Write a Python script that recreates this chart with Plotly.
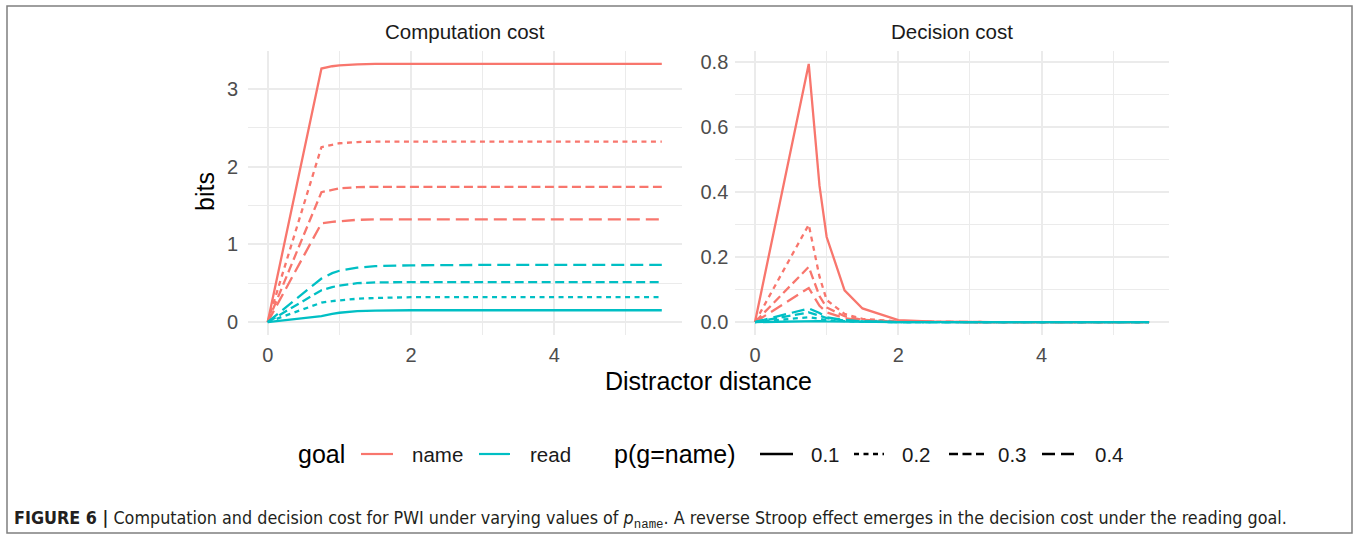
import plotly.graph_objects as go

W, H = 1357, 538

# ---------------- data ----------------
distance = [0, 0.75, 0.9, 1.0, 1.25, 1.5, 2.0, 2.5, 3.0, 3.5, 4.0, 4.5, 5.0, 5.5]
p_values = ["0.1", "0.2", "0.3", "0.4"]
goals = ["name", "read"]

# Computation cost (bits)
comp_name_01 = [0, 3.26, 3.29, 3.30, 3.315, 3.32, 3.32, 3.32, 3.32, 3.32, 3.32, 3.32, 3.32, 3.32]
comp_name_02 = [0, 2.25, 2.28, 2.30, 2.315, 2.32, 2.32, 2.32, 2.32, 2.32, 2.32, 2.32, 2.32, 2.32]
comp_name_03 = [0, 1.67, 1.70, 1.72, 1.735, 1.74, 1.74, 1.74, 1.74, 1.74, 1.74, 1.74, 1.74, 1.74]
comp_name_04 = [0, 1.27, 1.29, 1.30, 1.315, 1.32, 1.32, 1.32, 1.32, 1.32, 1.32, 1.32, 1.32, 1.32]
comp_read_01 = [0, 0.077, 0.105, 0.12, 0.14, 0.148, 0.152, 0.152, 0.152, 0.152, 0.152, 0.152, 0.152, 0.152]
comp_read_02 = [0, 0.25, 0.27, 0.28, 0.30, 0.31, 0.32, 0.32, 0.32, 0.32, 0.32, 0.32, 0.32, 0.32]
comp_read_03 = [0, 0.41, 0.45, 0.47, 0.50, 0.51, 0.515, 0.515, 0.515, 0.515, 0.515, 0.515, 0.515, 0.515]
comp_read_04 = [0, 0.56, 0.63, 0.66, 0.70, 0.72, 0.73, 0.735, 0.735, 0.735, 0.735, 0.735, 0.735, 0.735]

# Decision cost (bits)
dec_name_01 = [0, 0.795, 0.42, 0.262, 0.098, 0.042, 0.006, 0.001, 0, 0, 0, 0, 0, 0]
dec_name_02 = [0, 0.30, 0.14, 0.068, 0.025, 0.010, 0.002, 0, 0, 0, 0, 0, 0, 0]
dec_name_03 = [0, 0.17, 0.08, 0.045, 0.018, 0.007, 0.001, 0, 0, 0, 0, 0, 0, 0]
dec_name_04 = [0, 0.105, 0.05, 0.030, 0.012, 0.005, 0.001, 0, 0, 0, 0, 0, 0, 0]
dec_read_01 = [0, 0.004, 0.003, 0.002, 0.001, 0.0005, 0, 0, 0, 0, 0, 0, 0, 0]
dec_read_02 = [0, 0.015, 0.010, 0.006, 0.003, 0.001, 0, 0, 0, 0, 0, 0, 0, 0]
dec_read_03 = [0, 0.030, 0.020, 0.012, 0.005, 0.002, 0, 0, 0, 0, 0, 0, 0, 0]
dec_read_04 = [0, 0.042, 0.028, 0.015, 0.006, 0.002, 0, 0, 0, 0, 0, 0, 0, 0]

comp = {
    ("name", "0.1"): comp_name_01, ("name", "0.2"): comp_name_02,
    ("name", "0.3"): comp_name_03, ("name", "0.4"): comp_name_04,
    ("read", "0.1"): comp_read_01, ("read", "0.2"): comp_read_02,
    ("read", "0.3"): comp_read_03, ("read", "0.4"): comp_read_04,
}
dec = {
    ("name", "0.1"): dec_name_01, ("name", "0.2"): dec_name_02,
    ("name", "0.3"): dec_name_03, ("name", "0.4"): dec_name_04,
    ("read", "0.1"): dec_read_01, ("read", "0.2"): dec_read_02,
    ("read", "0.3"): dec_read_03, ("read", "0.4"): dec_read_04,
}

# ---------------- styles ----------------
colors = {"name": "#F8766D", "read": "#00BFC4"}
dashes = {"0.1": "solid", "0.2": "5px,4.5px", "0.3": "9px,4.5px", "0.4": "13px,6px"}
FONT = "Liberation Sans, Arial, Helvetica, sans-serif"
LW = 2.3
GRID = "#EBEBEB"

fig = go.Figure()
for g in goals:
    for p in p_values:
        fig.add_trace(go.Scatter(x=distance, y=comp[(g, p)], mode="lines",
                                 line=dict(color=colors[g], width=LW, dash=dashes[p]),
                                 xaxis="x", yaxis="y", showlegend=False,
                                 name=f"{g} {p}"))
        fig.add_trace(go.Scatter(x=distance, y=dec[(g, p)], mode="lines",
                                 line=dict(color=colors[g], width=LW, dash=dashes[p]),
                                 xaxis="x2", yaxis="y2", showlegend=False,
                                 name=f"{g} {p}"))


def expand(vals):
    lo, hi = min(vals), max(vals)
    s = hi - lo
    return [lo - 0.05 * s, hi + 0.05 * s]


xr = expand(distance)
yr1 = expand([v for s in comp.values() for v in s])
yr2 = expand([v for s in dec.values() for v in s])


def px(x):
    return x / W


def py(y):
    return 1 - y / H


dom_y = [py(335), py(51)]
dom_x1 = [px(248), px(681.5)]
dom_x2 = [px(735.3), px(1168.8)]

axis_common = dict(showline=False, zeroline=False, ticks="", showgrid=True,
                   gridcolor=GRID, gridwidth=1.6,
                   tickfont=dict(family=FONT, size=20, color="#4D4D4D"))

fig.update_layout(
    width=W, height=H, autosize=False,
    margin=dict(l=0, r=0, t=0, b=0),
    paper_bgcolor="white", plot_bgcolor="white",
    showlegend=False,
    xaxis=dict(domain=dom_x1, range=xr, anchor="y", tickvals=[0, 2, 4],
               ticktext=["0", "2", "4"], ticklabelstandoff=6,
               minor=dict(dtick=1, tick0=0, showgrid=True, gridcolor=GRID, gridwidth=0.9),
               **axis_common),
    yaxis=dict(domain=dom_y, range=yr1, anchor="x", tickvals=[0, 1, 2, 3],
               ticktext=["0", "1", "2", "3"], ticklabelstandoff=9,
               minor=dict(dtick=0.5, tick0=0, showgrid=True, gridcolor=GRID, gridwidth=0.9),
               **axis_common),
    xaxis2=dict(domain=dom_x2, range=xr, anchor="y2", tickvals=[0, 2, 4],
                ticktext=["0", "2", "4"], ticklabelstandoff=6,
                minor=dict(dtick=1, tick0=0, showgrid=True, gridcolor=GRID, gridwidth=0.9),
                **axis_common),
    yaxis2=dict(domain=dom_y, range=yr2, anchor="x2",
                tickvals=[0, 0.2, 0.4, 0.6, 0.8],
                ticktext=["0.0", "0.2", "0.4", "0.6", "0.8"], ticklabelstandoff=6,
                minor=dict(dtick=0.1, tick0=0, showgrid=True, gridcolor=GRID, gridwidth=0.9),
                **axis_common),
)

ann = []
# panel strip titles
ann.append(dict(text="Computation cost", x=px((248 + 681.5) / 2), y=py(31), xref="paper", yref="paper",
                showarrow=False, xanchor="center", yanchor="middle",
                font=dict(family=FONT, size=20.5, color="#1A1A1A")))
ann.append(dict(text="Decision cost", x=px((735.3 + 1168.8) / 2), y=py(31), xref="paper", yref="paper",
                showarrow=False, xanchor="center", yanchor="middle",
                font=dict(family=FONT, size=20.5, color="#1A1A1A")))
# axis titles
ann.append(dict(text="bits", x=px(205), y=py(192), xref="paper", yref="paper", textangle=-90,
                showarrow=False, xanchor="center", yanchor="middle",
                font=dict(family=FONT, size=25, color="black")))
ann.append(dict(text="Distractor distance", x=px(708), y=py(381), xref="paper", yref="paper",
                showarrow=False, xanchor="center", yanchor="middle",
                font=dict(family=FONT, size=25, color="black")))

# legend
LY = 454
ann.append(dict(text="goal", x=px(296), y=py(LY), xref="paper", yref="paper", showarrow=False,
                xanchor="left", yanchor="middle", font=dict(family=FONT, size=25, color="black")))
ann.append(dict(text="p(g=name)", x=px(612), y=py(LY), xref="paper", yref="paper", showarrow=False,
                xanchor="left", yanchor="middle", font=dict(family=FONT, size=25, color="black")))
leg_goal = [("name", 361, 393, 410), ("read", 479, 510, 528)]
shapes = []
for g, x0, x1, tx in leg_goal:
    shapes.append(dict(type="line", xref="paper", yref="paper", x0=px(x0), x1=px(x1),
                       y0=py(LY), y1=py(LY), line=dict(color=colors[g], width=2.2)))
    ann.append(dict(text=g, x=px(tx), y=py(LY), xref="paper", yref="paper", showarrow=False,
                    xanchor="left", yanchor="middle", font=dict(family=FONT, size=20.5, color="#1A1A1A")))
leg_p = [("0.1", 760, 793, 809), ("0.2", 854, 884, 900), ("0.3", 949, 984, 996), ("0.4", 1042, 1078, 1093)]
for p, x0, x1, tx in leg_p:
    shapes.append(dict(type="line", xref="paper", yref="paper", x0=px(x0), x1=px(x1),
                       y0=py(LY), y1=py(LY), line=dict(color="black", width=2.6, dash=dashes[p])))
    ann.append(dict(text=p, x=px(tx), y=py(LY), xref="paper", yref="paper", showarrow=False,
                    xanchor="left", yanchor="middle", font=dict(family=FONT, size=20.5, color="#1A1A1A")))

# caption
caption = ("<b>FIGURE 6 |</b> Computation and decision cost for PWI under varying values of "
           "<i>p</i><sub><span style='font-family:Liberation Mono, monospace'>name</span></sub>. "
           "A reverse Stroop effect emerges in the decision cost under the reading goal.")
ann.append(dict(text=caption, x=px(12), y=py(519), xref="paper", yref="paper", showarrow=False,
                xanchor="left", yanchor="middle",
                font=dict(family="Liberation Sans Narrow, DejaVu Sans Condensed, Liberation Sans, Arial",
                          size=17.8, color="#231F20")))

# figure frame
shapes.append(dict(type="rect", xref="paper", yref="paper", x0=px(7), x1=px(1352),
                   y0=py(533), y1=py(6), line=dict(color="#7F7F7F", width=1.5), layer="below"))

fig.update_layout(annotations=ann, shapes=shapes)
fig.write_html("out.html")
